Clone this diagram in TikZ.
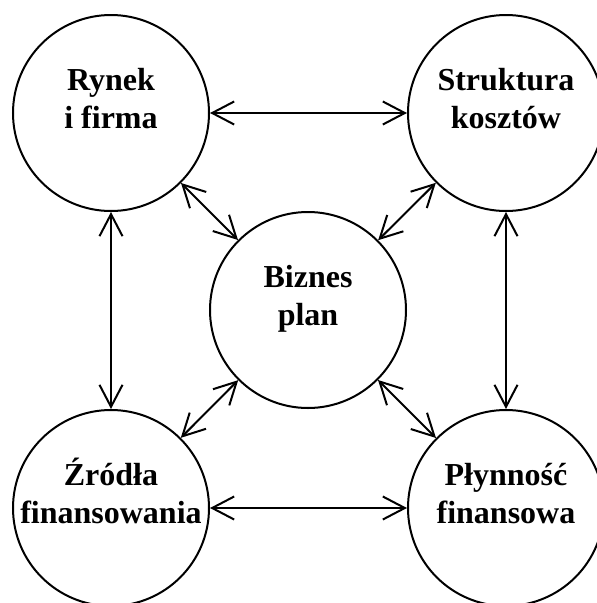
\documentclass[tikz,border=0pt]{standalone}
\usepackage{fontspec}
\setmainfont{Liberation Serif}
\usetikzlibrary{arrows.meta}
\tikzset{every node/.style={shape=circle, draw=black, line width=2pt, minimum size=196pt, inner sep=0pt,
  align=center, font=\bfseries\fontsize{32}{38}\selectfont, text height=30pt, text depth=0pt}}
\tikzset{every edge/.style={draw=black, line width=2pt, <->}}
\begin{document}
\begin{tikzpicture}[x=1pt, y=1pt, node distance=395pt, >={Straight Barb[length=22pt,width=23pt]}]
  \useasboundingbox (0,0) rectangle (597,-603);
  \node (RF) at (111,-113) {Rynek\\i firma};
  \node (SK) [right of = RF] {Struktura\\kosztów};
  \node (ZF) [below of = RF] {Źródła\\finansowania};
  \node (PF) [below of = SK] {Płynność\\finansowa};
  \node (BP) at (308,-310) {Biznes\\plan};

  \path (RF) edge (SK);
  \path (RF) edge (ZF);
  \path (RF) edge (BP);

  \path (SK) edge (PF);
  \path (SK) edge (BP);

  \path (ZF) edge (PF);
  \path (ZF) edge (BP);

  \path (PF) edge (BP);
\end{tikzpicture}
\end{document}
